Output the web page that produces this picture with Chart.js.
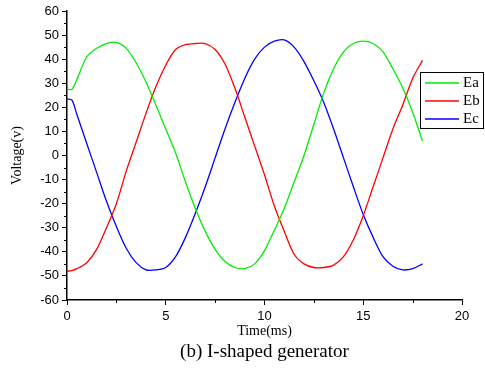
<!DOCTYPE html>
<html>
<head>
<meta charset="utf-8">
<script src="https://cdn.jsdelivr.net/npm/chart.js@4"></script>
<style>
  html, body { margin: 0; padding: 0; background: #fff; }
  #wrap { width: 485px; height: 368px; }
</style>
</head>
<body>
<div id="wrap"><canvas id="chart" width="485" height="368"></canvas></div>
<script>
// Time axis (ms)
const times = [0, 0.25, 0.5, 1, 1.5, 2, 2.5, 3, 3.5, 4, 4.5, 5, 5.5, 6, 6.5, 7, 7.5, 8, 8.5, 9,
  9.5, 10, 10.5, 11, 11.5, 12, 12.5, 13, 13.5, 14, 14.5, 15, 15.5, 16, 16.5, 17, 17.5, 18];

const ea = [27.5, 27.5, 31.5, 41, 44.5, 46.5, 47, 44.5, 38.5, 30.5, 21, 11, 1, -11, -22, -31.5, -39, -44, -46.5, -47,
  -45, -39.5, -31, -22, -11, 0, 13, 26, 36, 43, 46.5, 47.5, 46.5, 43, 36, 28, 18, 6];

const eb = [-48, -47.8, -47, -44.5, -39, -30, -20, -6.5, 5.5, 17.5, 28.5, 37.5, 44, 46, 46.5, 46.5, 44, 38, 28, 16,
  4, -8, -21, -31.5, -41, -45, -46.5, -46.5, -45.5, -42, -35, -25, -13, -1, 11, 21, 32, 39.5];

const ec = [23.5, 23, 17, 5, -7, -19, -29.5, -38.5, -44.5, -47.5, -47.5, -46.5, -42, -34, -24, -13, -1, 11, 22, 32,
  40, 45, 47.5, 48, 45, 39, 31, 22, 11, -1, -13, -24.5, -34, -42, -46, -47.5, -47, -45];

const seriesNames = ['Ea', 'Eb', 'Ec'];
const seriesColors = ['#00ee00', '#ff0000', '#0000ff'];

const xTicks = [0, 5, 10, 15, 20];
const yTicks = [-60, -50, -40, -30, -20, -10, 0, 10, 20, 30, 40, 50, 60];

const caption = '(b) I-shaped generator';

function toPoints(vals) {
  return vals.map((v, i) => ({ x: times[i], y: v }));
}

// minor ticks, legend box and caption
const extrasPlugin = {
  id: 'extras',
  afterDraw(chart) {
    const ctx = chart.ctx;
    const xs = chart.scales.x, ys = chart.scales.y;
    const area = chart.chartArea;
    ctx.save();
    ctx.strokeStyle = '#000';
    ctx.lineWidth = 1;
    // minor ticks
    for (let v = -55; v < 60; v += 10) {
      const py = Math.round(ys.getPixelForValue(v)) + 0.5;
      ctx.beginPath();
      ctx.moveTo(area.left - 3, py);
      ctx.lineTo(area.left, py);
      ctx.stroke();
    }
    for (let v = 2.5; v < 20; v += 5) {
      const px = Math.round(xs.getPixelForValue(v)) + 0.5;
      ctx.beginPath();
      ctx.moveTo(px, area.bottom);
      ctx.lineTo(px, area.bottom + 3);
      ctx.stroke();
    }

    // legend
    const lx = 420, ly = 72, lw = 63, lh = 56;
    ctx.fillStyle = '#fff';
    ctx.fillRect(lx, ly, lw, lh);
    ctx.strokeRect(lx + 0.5, ly + 0.5, lw, lh);
    ctx.font = '15px "Liberation Serif"';
    ctx.textBaseline = 'middle';
    chart.data.datasets.forEach((ds, i) => {
      const yy = ly + 11 + i * 18;
      ctx.strokeStyle = ds.borderColor;
      ctx.lineWidth = 1.5;
      ctx.beginPath();
      ctx.moveTo(lx + 5, yy);
      ctx.lineTo(lx + 39, yy);
      ctx.stroke();
      ctx.fillStyle = '#000';
      ctx.textAlign = 'left';
      ctx.fillText(ds.label, lx + 43, yy);
    });

    // caption
    ctx.fillStyle = '#000';
    ctx.font = '19px "Liberation Serif"';
    ctx.textAlign = 'center';
    ctx.textBaseline = 'middle';
    ctx.fillText(caption, (area.left + area.right) / 2, 352);
    ctx.restore();
  }
};

new Chart(document.getElementById('chart'), {
  type: 'line',
  data: {
    datasets: [ea, eb, ec].map((vals, i) => ({
      label: seriesNames[i],
      data: toPoints(vals),
      borderColor: seriesColors[i],
      backgroundColor: seriesColors[i],
      borderWidth: 1.3,
      pointRadius: 0,
      tension: 0.3,
      fill: false
    }))
  },
  options: {
    responsive: false,
    animation: false,
    layout: { padding: { top: 11, right: 23, bottom: 28, left: 0 } },
    plugins: { legend: { display: false }, tooltip: { enabled: false } },
    scales: {
      x: {
        type: 'linear',
        min: 0,
        max: 20,
        afterBuildTicks: s => { s.ticks = xTicks.map(v => ({ value: v })); },
        afterFit: s => { s.height = 40; },
        border: { color: '#000', width: 1.5 },
        grid: { drawOnChartArea: false, drawTicks: true, tickLength: 5, tickColor: '#000' },
        ticks: {
          color: '#000',
          font: { family: '"Liberation Sans"', size: 13 },
          padding: 4,
          maxRotation: 0
        },
        title: {
          display: true,
          text: 'Time(ms)',
          color: '#000',
          font: { family: '"Liberation Serif"', size: 14 },
          padding: { top: 1, bottom: 0 }
        }
      },
      y: {
        min: -60,
        max: 60,
        afterBuildTicks: s => { s.ticks = yTicks.map(v => ({ value: v })); },
        afterFit: s => { s.width = 67; },
        border: { color: '#000', width: 1.5 },
        grid: { drawOnChartArea: false, drawTicks: true, tickLength: 5, tickColor: '#000' },
        ticks: {
          color: '#000',
          font: { family: '"Liberation Sans"', size: 13 },
          padding: 3
        },
        title: {
          display: true,
          text: 'Voltage(v)',
          color: '#000',
          font: { family: '"Liberation Serif"', size: 14 },
          padding: { top: 9, bottom: 0 }
        }
      }
    }
  },
  plugins: [extrasPlugin]
});
</script>
</body>
</html>
